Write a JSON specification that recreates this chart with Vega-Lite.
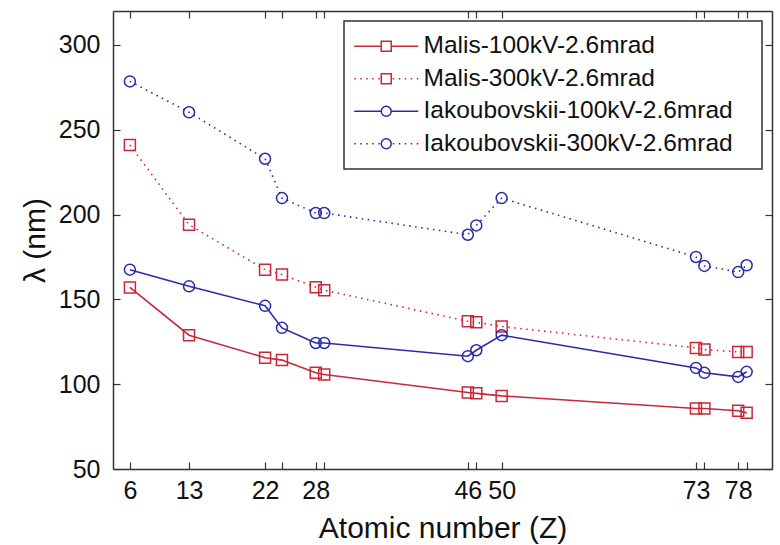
{
  "$schema": "https://vega.github.io/schema/vega-lite/v6.json",
  "width": 659,
  "height": 458,
  "autosize": {"type": "none"},
  "padding": {"left": 113, "top": 11, "right": 8, "bottom": 76},
  "background": "white",
  "config": {
    "font": "Liberation Sans",
    "view": {"stroke": null},
    "axis": {
      "grid": false,
      "domainColor": "#333",
      "domainWidth": 1.5,
      "tickColor": "#333",
      "tickWidth": 1.2,
      "tickSize": -7,
      "labelColor": "#111",
      "labelFontSize": 25,
      "labelFont": "Liberation Sans",
      "titleFont": "Liberation Sans",
      "titleFontSize": 30,
      "titleFontWeight": "normal",
      "titleColor": "#111",
      "labelFlush": false,
      "labelOverlap": false
    },
    "legend": {
      "orient": "top-right",
      "offset": 10,
      "padding": 13,
      "rowPadding": 7.5,
      "strokeColor": "#333",
      "strokeWidth": 1.5,
      "fillColor": "white",
      "labelFont": "Liberation Sans",
      "labelFontSize": 24.5,
      "labelColor": "#111",
      "labelLimit": 500,
      "symbolStrokeWidth": 1.5,
      "symbolOffset": 17,
      "labelOffset": 25,
      "titleOrient": "right",
      "titlePadding": 16,
      "titleFontSize": 2
    }
  },
  "data": {
    "values": [
      {"s": "Malis-100kV-2.6mrad", "z": 6, "v": 157},
      {"s": "Malis-100kV-2.6mrad", "z": 13, "v": 128.9},
      {"s": "Malis-100kV-2.6mrad", "z": 22, "v": 115.6},
      {"s": "Malis-100kV-2.6mrad", "z": 24, "v": 114.2},
      {"s": "Malis-100kV-2.6mrad", "z": 28, "v": 106.7},
      {"s": "Malis-100kV-2.6mrad", "z": 29, "v": 105.7},
      {"s": "Malis-100kV-2.6mrad", "z": 46, "v": 95.1},
      {"s": "Malis-100kV-2.6mrad", "z": 47, "v": 94.6},
      {"s": "Malis-100kV-2.6mrad", "z": 50, "v": 93.1},
      {"s": "Malis-100kV-2.6mrad", "z": 73, "v": 85.7},
      {"s": "Malis-100kV-2.6mrad", "z": 74, "v": 85.7},
      {"s": "Malis-100kV-2.6mrad", "z": 78, "v": 84.3},
      {"s": "Malis-100kV-2.6mrad", "z": 79, "v": 83.1},
      {"s": "Malis-300kV-2.6mrad", "z": 6, "v": 241},
      {"s": "Malis-300kV-2.6mrad", "z": 13, "v": 194},
      {"s": "Malis-300kV-2.6mrad", "z": 22, "v": 167.5},
      {"s": "Malis-300kV-2.6mrad", "z": 24, "v": 164.6},
      {"s": "Malis-300kV-2.6mrad", "z": 28, "v": 157.2},
      {"s": "Malis-300kV-2.6mrad", "z": 29, "v": 155.4},
      {"s": "Malis-300kV-2.6mrad", "z": 46, "v": 137.1},
      {"s": "Malis-300kV-2.6mrad", "z": 47, "v": 136.5},
      {"s": "Malis-300kV-2.6mrad", "z": 50, "v": 134},
      {"s": "Malis-300kV-2.6mrad", "z": 73, "v": 121.4},
      {"s": "Malis-300kV-2.6mrad", "z": 74, "v": 120.4},
      {"s": "Malis-300kV-2.6mrad", "z": 78, "v": 119},
      {"s": "Malis-300kV-2.6mrad", "z": 79, "v": 119},
      {"s": "Iakoubovskii-100kV-2.6mrad", "z": 6, "v": 167.5},
      {"s": "Iakoubovskii-100kV-2.6mrad", "z": 13, "v": 157.7},
      {"s": "Iakoubovskii-100kV-2.6mrad", "z": 22, "v": 146.2},
      {"s": "Iakoubovskii-100kV-2.6mrad", "z": 24, "v": 133.2},
      {"s": "Iakoubovskii-100kV-2.6mrad", "z": 28, "v": 124.3},
      {"s": "Iakoubovskii-100kV-2.6mrad", "z": 29, "v": 124.3},
      {"s": "Iakoubovskii-100kV-2.6mrad", "z": 46, "v": 116.5},
      {"s": "Iakoubovskii-100kV-2.6mrad", "z": 47, "v": 120},
      {"s": "Iakoubovskii-100kV-2.6mrad", "z": 50, "v": 128.9},
      {"s": "Iakoubovskii-100kV-2.6mrad", "z": 73, "v": 109.6},
      {"s": "Iakoubovskii-100kV-2.6mrad", "z": 74, "v": 106.7},
      {"s": "Iakoubovskii-100kV-2.6mrad", "z": 78, "v": 104.3},
      {"s": "Iakoubovskii-100kV-2.6mrad", "z": 79, "v": 107.3},
      {"s": "Iakoubovskii-300kV-2.6mrad", "z": 6, "v": 278.5},
      {"s": "Iakoubovskii-300kV-2.6mrad", "z": 13, "v": 260.3},
      {"s": "Iakoubovskii-300kV-2.6mrad", "z": 22, "v": 232.9},
      {"s": "Iakoubovskii-300kV-2.6mrad", "z": 24, "v": 209.7},
      {"s": "Iakoubovskii-300kV-2.6mrad", "z": 28, "v": 200.9},
      {"s": "Iakoubovskii-300kV-2.6mrad", "z": 29, "v": 200.9},
      {"s": "Iakoubovskii-300kV-2.6mrad", "z": 46, "v": 188.1},
      {"s": "Iakoubovskii-300kV-2.6mrad", "z": 47, "v": 193.6},
      {"s": "Iakoubovskii-300kV-2.6mrad", "z": 50, "v": 209.7},
      {"s": "Iakoubovskii-300kV-2.6mrad", "z": 73, "v": 175},
      {"s": "Iakoubovskii-300kV-2.6mrad", "z": 74, "v": 169.7},
      {"s": "Iakoubovskii-300kV-2.6mrad", "z": 78, "v": 166.1},
      {"s": "Iakoubovskii-300kV-2.6mrad", "z": 79, "v": 170.1}
    ]
  },
  "resolve": {"axis": {"x": "independent", "y": "independent"}},
  "layer": [
    {
      "transform": [{"filter": "datum.z > 1000"}],
      "mark": {"type": "point", "filled": false, "size": 100, "strokeWidth": 1.5, "opacity": 1},
      "encoding": {
        "color": {
          "field": "s", "type": "nominal",
          "scale": {
            "domain": ["Malis-100kV-2.6mrad", "Malis-300kV-2.6mrad", "Iakoubovskii-100kV-2.6mrad", "Iakoubovskii-300kV-2.6mrad"],
            "range": ["#c8283a", "#c8283a", "#2b2ba8", "#2b2ba8"]
          },
          "legend": {"title": " "}
        },
        "shape": {
          "field": "s", "type": "nominal",
          "scale": {
            "domain": ["Malis-100kV-2.6mrad", "Malis-300kV-2.6mrad", "Iakoubovskii-100kV-2.6mrad", "Iakoubovskii-300kV-2.6mrad"],
            "range": [
              "M-6.4,0H-1M1,0H6.4M-1,-1H1V1H-1Z",
              "M-6.4,0h0.3M-5.2,0h0.3M-4,0h0.3M-2.8,0h0.3M-1.6,0h0.3M1.3,0h0.3M2.5,0h0.3M3.7,0h0.3M4.9,0h0.3M6.1,0h0.3M-1,-1H1V1H-1Z",
              "M-6.4,0H-1M1,0H6.4M1,0A1,1,0,1,1,-1,0A1,1,0,1,1,1,0Z",
              "M-6.4,0h0.3M-5.2,0h0.3M-4,0h0.3M-2.8,0h0.3M-1.6,0h0.3M1.3,0h0.3M2.5,0h0.3M3.7,0h0.3M4.9,0h0.3M6.1,0h0.3M1,0A1,1,0,1,1,-1,0A1,1,0,1,1,1,0Z"
            ]
          },
          "legend": {"title": " "}
        }
      }
    },
    {
      "transform": [{"filter": "indexof(datum.s, '100kV') >= 0"}],
      "mark": {"type": "line", "strokeWidth": 1.6},
      "encoding": {
        "x": {
          "field": "z", "type": "quantitative",
          "scale": {"domain": [4, 82], "nice": false, "zero": false},
          "axis": {
            "orient": "bottom",
            "title": "Atomic number (Z)",
            "values": [6, 13, 22, 24, 28, 29, 46, 47, 50, 73, 74, 78, 79],
            "labelExpr": "indexof([6, 13, 22, 28, 46, 50, 73, 78], datum.value) >= 0 ? datum.label : ''",
            "labelPadding": 16,
            "titlePadding": 10
          }
        },
        "y": {
          "field": "v", "type": "quantitative",
          "scale": {"domain": [50, 320], "nice": false, "zero": false},
          "axis": {
            "orient": "left",
            "title": "λ (nm)",
            "values": [50, 100, 150, 200, 250, 300],
            "labelPadding": 20,
            "titlePadding": 8
          }
        },
        "color": {"field": "s", "type": "nominal", "legend": null}
      }
    },
    {
      "transform": [{"filter": "indexof(datum.s, '300kV') >= 0"}],
      "mark": {"type": "line", "strokeWidth": 1.6, "strokeDash": [1.5, 4.5]},
      "encoding": {
        "x": {"field": "z", "type": "quantitative", "axis": null},
        "y": {"field": "v", "type": "quantitative", "axis": null},
        "color": {"field": "s", "type": "nominal", "legend": null}
      }
    },
    {
      "transform": [{"filter": "indexof(datum.s, 'Malis') === 0"}],
      "mark": {"type": "point", "shape": "square", "filled": false, "size": 121, "strokeWidth": 1.5, "opacity": 1},
      "encoding": {
        "x": {
          "field": "z", "type": "quantitative",
          "axis": {
            "orient": "top",
            "title": null,
            "labels": false,
            "values": [6, 13, 22, 24, 28, 29, 46, 47, 50, 73, 74, 78, 79]
          }
        },
        "y": {
          "field": "v", "type": "quantitative",
          "axis": {
            "orient": "right",
            "title": null,
            "labels": false,
            "values": [50, 100, 150, 200, 250, 300]
          }
        },
        "color": {"field": "s", "type": "nominal", "legend": null}
      }
    },
    {
      "transform": [{"filter": "indexof(datum.s, 'Iakoubovskii') === 0"}],
      "mark": {"type": "point", "shape": "circle", "filled": false, "size": 121, "strokeWidth": 1.5, "opacity": 1},
      "encoding": {
        "x": {"field": "z", "type": "quantitative", "axis": null},
        "y": {"field": "v", "type": "quantitative", "axis": null},
        "color": {"field": "s", "type": "nominal", "legend": null}
      }
    }
  ]
}
